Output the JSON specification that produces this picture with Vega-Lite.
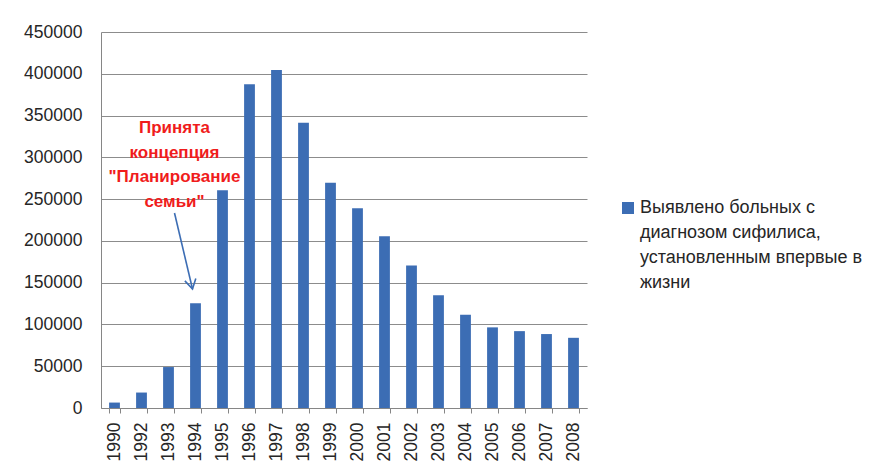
{
  "$schema": "https://vega.github.io/schema/vega-lite/v6.json",
  "width": 486,
  "height": 376,
  "autosize": {"type": "none"},
  "padding": {"left": 101, "top": 32, "right": 292, "bottom": 65},
  "background": "white",
  "config": {"view": {"stroke": null}, "font": "Liberation Sans"},
  "layer": [
    {
      "data": {
        "values": [
          {"year": "1990", "cases": 6500, "series": "Выявлено больных с\nдиагнозом сифилиса,\nустановленным впервые в\nжизни"},
          {"year": "1992", "cases": 18500, "series": "Выявлено больных с\nдиагнозом сифилиса,\nустановленным впервые в\nжизни"},
          {"year": "1993", "cases": 49000, "series": "Выявлено больных с\nдиагнозом сифилиса,\nустановленным впервые в\nжизни"},
          {"year": "1994", "cases": 125500, "series": "Выявлено больных с\nдиагнозом сифилиса,\nустановленным впервые в\nжизни"},
          {"year": "1995", "cases": 260500, "series": "Выявлено больных с\nдиагнозом сифилиса,\nустановленным впервые в\nжизни"},
          {"year": "1996", "cases": 387500, "series": "Выявлено больных с\nдиагнозом сифилиса,\nустановленным впервые в\nжизни"},
          {"year": "1997", "cases": 404500, "series": "Выявлено больных с\nдиагнозом сифилиса,\nустановленным впервые в\nжизни"},
          {"year": "1998", "cases": 341500, "series": "Выявлено больных с\nдиагнозом сифилиса,\nустановленным впервые в\nжизни"},
          {"year": "1999", "cases": 269500, "series": "Выявлено больных с\nдиагнозом сифилиса,\nустановленным впервые в\nжизни"},
          {"year": "2000", "cases": 239000, "series": "Выявлено больных с\nдиагнозом сифилиса,\nустановленным впервые в\nжизни"},
          {"year": "2001", "cases": 205500, "series": "Выявлено больных с\nдиагнозом сифилиса,\nустановленным впервые в\nжизни"},
          {"year": "2002", "cases": 170500, "series": "Выявлено больных с\nдиагнозом сифилиса,\nустановленным впервые в\nжизни"},
          {"year": "2003", "cases": 135000, "series": "Выявлено больных с\nдиагнозом сифилиса,\nустановленным впервые в\nжизни"},
          {"year": "2004", "cases": 111500, "series": "Выявлено больных с\nдиагнозом сифилиса,\nустановленным впервые в\nжизни"},
          {"year": "2005", "cases": 96500, "series": "Выявлено больных с\nдиагнозом сифилиса,\nустановленным впервые в\nжизни"},
          {"year": "2006", "cases": 92000, "series": "Выявлено больных с\nдиагнозом сифилиса,\nустановленным впервые в\nжизни"},
          {"year": "2007", "cases": 88500, "series": "Выявлено больных с\nдиагнозом сифилиса,\nустановленным впервые в\nжизни"},
          {"year": "2008", "cases": 84000, "series": "Выявлено больных с\nдиагнозом сифилиса,\nустановленным впервые в\nжизни"}
        ]
      },
      "mark": {"type": "bar"},
      "encoding": {
        "x": {
          "field": "year", "type": "ordinal", "sort": null,
          "scale": {"paddingInner": 0.6, "paddingOuter": 0.3},
          "axis": {
            "title": null, "labelAngle": -90, "tickBand": "extent", "tickSize": 5,
            "tickColor": "#868686", "domainColor": "#868686", "labelPadding": 9,
            "labelFontSize": 17.5, "labelColor": "#262626", "grid": false
          }
        },
        "y": {
          "field": "cases", "type": "quantitative",
          "scale": {"domain": [0, 450000], "nice": false},
          "axis": {
            "title": null, "values": [0, 50000, 100000, 150000, 200000, 250000, 300000, 350000, 400000, 450000],
            "format": "d", "ticks": false, "labelPadding": 19, "labelFontSize": 17.5,
            "labelColor": "#262626", "domainColor": "#868686", "gridColor": "#8c8c8c", "gridWidth": 1
          }
        },
        "color": {
          "field": "series", "type": "nominal",
          "scale": {"range": ["#3c6db4"]},
          "legend": {
            "title": null, "orient": "none", "legendX": 518, "legendY": 167, "padding": 0,
            "symbolType": "square", "symbolSize": 144, "symbolStrokeWidth": 0,
            "labelFontSize": 18, "labelColor": "#262626", "labelOffset": 3, "labelLimit": 400,
            "labelExpr": "split(datum.label, '\\n')", "labelBaseline": "middle",
            "encode": {"labels": {"update": {"lineHeight": {"value": 25}}}}
          }
        }
      }
    },
    {
      "data": {"values": [{"year": "1994", "from": 233400, "to": 142400}]},
      "mark": {"type": "rule", "xOffset": -21, "x2Offset": -3, "color": "#3c6db4", "strokeWidth": 1.6},
      "encoding": {
        "x": {"field": "year", "type": "ordinal", "sort": null},
        "x2": {"field": "year"},
        "y": {"field": "from", "type": "quantitative"},
        "y2": {"field": "to"}
      }
    },
    {
      "data": {"values": [{"year": "1994", "to": 142400}]},
      "mark": {"type": "point", "shape": "M-0.7,-1.2L0,0L0.7,-1.2", "size": 256, "filled": false, "stroke": "#3c6db4", "strokeWidth": 1.6, "angle": -13, "xOffset": -3, "opacity": 1},
      "encoding": {
        "x": {"field": "year", "type": "ordinal", "sort": null},
        "y": {"field": "to", "type": "quantitative"}
      }
    },
    {
      "data": {"values": [{"year": "1994", "cases": 335000, "note": "Принята\nконцепция\n\"Планирование\nсемьи\""}]},
      "mark": {"type": "text", "lineBreak": "\n", "fontWeight": "bold", "fontSize": 17, "color": "#f01c1c", "xOffset": -21, "align": "center", "baseline": "middle", "lineHeight": 24.5},
      "encoding": {
        "x": {"field": "year", "type": "ordinal", "sort": null},
        "y": {"field": "cases", "type": "quantitative"},
        "text": {"field": "note"}
      }
    }
  ]
}
